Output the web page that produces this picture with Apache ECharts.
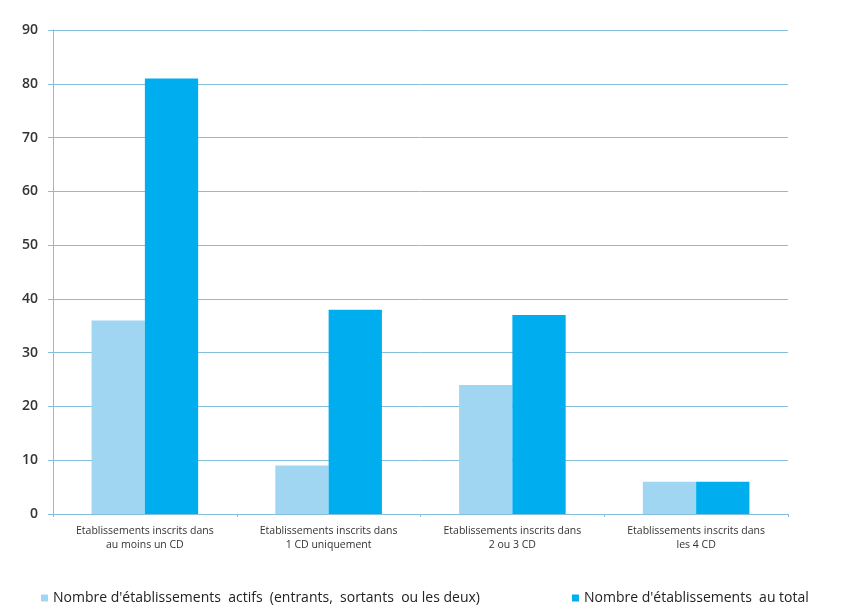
<!DOCTYPE html>
<html>
<head>
<meta charset="utf-8">
<script src="https://cdn.jsdelivr.net/npm/echarts@6/dist/echarts.min.js"></script>
<style>
  html, body { margin: 0; padding: 0; background: #fff; }
  #chart { width: 852px; height: 615px; }
</style>
</head>
<body>
<div id="chart"></div>
<script>
// catégories et valeurs
const categories = [
  "Etablissements inscrits dans\nau moins un CD",
  "Etablissements inscrits dans\n1 CD uniquement",
  "Etablissements inscrits dans\n2 ou 3 CD",
  "Etablissements inscrits dans\nles 4 CD"
];
const actifs = [36, 9, 24, 6];
const total = [81, 38, 37, 6];
const seriesNames = [
  "Nombre d'établissements  actifs  (entrants,  sortants  ou les deux)",
  "Nombre d'établissements  au total"
];

const chart = echarts.init(document.getElementById("chart"));
chart.setOption({
  animation: false,
  textStyle: { fontFamily: "Open Sans, sans-serif" },
  grid: { left: 53, right: 64, top: 30, bottom: 101 },
  legend: {
    bottom: 5,
    left: 36,
    itemWidth: 7,
    itemHeight: 7,
    itemGap: 92,
    icon: "rect",
    textStyle: { color: "#222", fontSize: 14 },
    data: seriesNames
  },
  xAxis: {
    type: "category",
    data: categories,
    axisLine: { lineStyle: { color: "#86bfdd" } },
    axisTick: { show: true, length: 3, lineStyle: { color: "#86bfdd" } },
    axisLabel: {
      color: "#333",
      fontSize: 10.5,
      lineHeight: 14,
      margin: 10,
      interval: 0
    }
  },
  yAxis: {
    type: "value",
    min: 0,
    max: 90,
    interval: 10,
    axisLine: { show: true, lineStyle: { color: "#86bfdd" } },
    axisTick: { show: true, length: 5, lineStyle: { color: "#86bfdd" } },
    axisLabel: { color: "#333", fontSize: 14, fontWeight: 600, margin: 15 },
    splitLine: { lineStyle: { color: "#86bfdd" } }
  },
  series: [
    {
      name: seriesNames[0],
      type: "bar",
      data: actifs,
      barGap: "0%",
      barCategoryGap: "42%",
      itemStyle: { color: "#a0d6f2" }
    },
    {
      name: seriesNames[1],
      type: "bar",
      data: total,
      itemStyle: { color: "#00aeef" }
    }
  ]
});
</script>
</body>
</html>
